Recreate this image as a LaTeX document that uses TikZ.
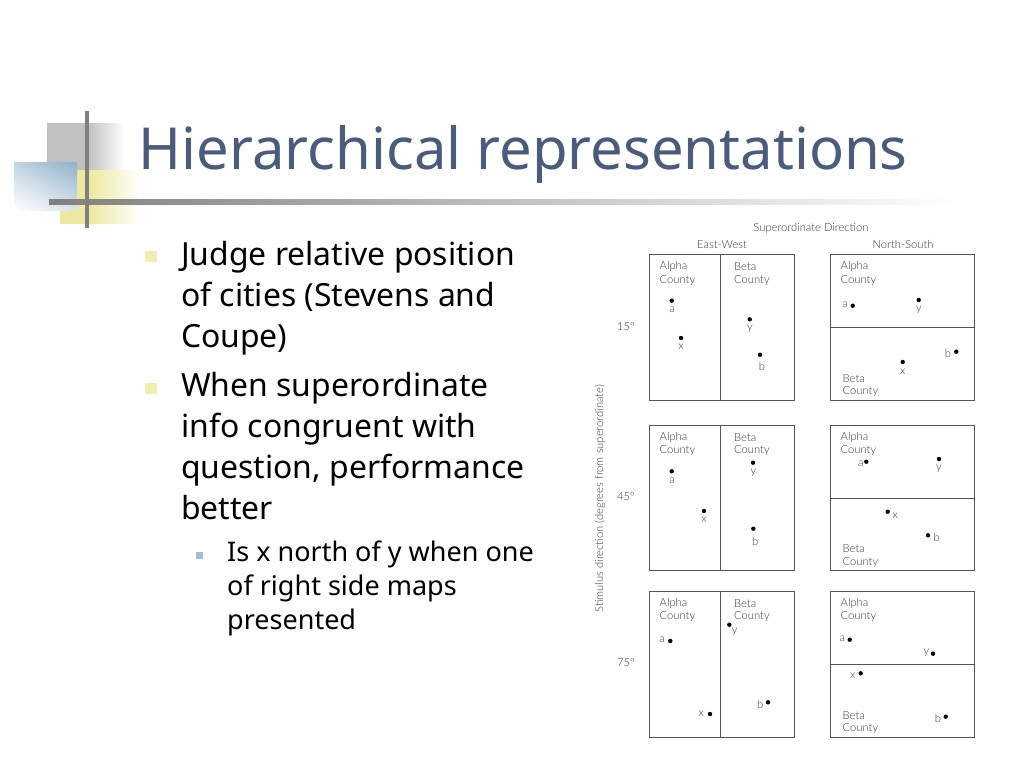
\documentclass[tikz,border=0pt]{standalone}
\usepackage{fontspec}
\usetikzlibrary{shadings}
\setmainfont{Noto Sans}
\newfontfamily\figfont{Lato Light}
\definecolor{titleblue}{HTML}{4A5B7C}
\definecolor{figgrey}{HTML}{3A3A3A}
\definecolor{panelgrey}{HTML}{555555}
\definecolor{bargrey}{HTML}{808080}
\definecolor{logogrey}{HTML}{C0C0C0}
\definecolor{logoyellow}{HTML}{EEE9A0}
\definecolor{logoblue}{HTML}{8FB0C8}
\definecolor{bulletyellow}{HTML}{F1EEB4}
\definecolor{bulletblue}{HTML}{9FC0D0}
\newcounter{nn}
\tikzset{
  x=1pt,y=-1pt,
  titletext/.style={anchor=base west,inner sep=0,text=titleblue,font=\fontsize{58}{58}\selectfont},
  bodytext/.style={anchor=base west,inner sep=0,text=black,font=\fontsize{31.9}{31.9}\selectfont},
  subtext/.style={anchor=base west,inner sep=0,text=black,font=\fontsize{27}{27}\selectfont},
  figtext/.style={inner sep=0,yshift=-0.8pt,text=figgrey,font=\figfont\fontsize{11.2}{11.2}\selectfont},
  citydot/.style={circle,fill=black,draw=none,inner sep=0,minimum size=4.4pt},
  panel/.style={draw=panelgrey,line width=0.9pt},
}
\newcommand{\citypt}[5]{\stepcounter{nn}\node[citydot] (d\thenn) at (#1,#2) {};\node[figtext] (l\thenn) at (#3,#4) {#5};}
\newcommand{\county}[3]{\stepcounter{nn}\node[figtext,anchor=west] (c\thenn) at (#1,#2) {#3};}
\begin{document}
\begin{tikzpicture}
\useasboundingbox (0,0) rectangle (1024,768);
\fill[white] (0,0) rectangle (1024,768);
% logo
\fill[logogrey] (47,123) rectangle (88,170);
\shade[left color=logogrey,right color=white] (88,123) rectangle (124,170);
\fill[logoyellow] (60,170) rectangle (90,223.5);
\shade[left color=logoyellow,right color=white] (90,170) rectangle (140,223.5);
\shade[lower left=white,upper right=logoblue,upper left=logoblue!55!white,lower right=logoblue!35!white] (14,162) rectangle (77,210);
\shade[left color=bargrey,right color=white] (49,199) rectangle (960,204);
\fill[bargrey] (85,111) rectangle (89,228);
% title
\node[titletext] (title) at (138.5,169.5) {Hierarchical representations};
% bullets
\fill[bulletyellow] (145,251) rectangle (157,262);
\fill[bulletyellow] (145,383) rectangle (157,394);
\fill[bulletblue] (196,552) rectangle (203,559);
\node[bodytext] (b1) at (181,265) {Judge relative position};
\node[bodytext] (b2) at (181,306) {of cities (Stevens and};
\node[bodytext] (b3) at (181,347) {Coupe)};
\node[bodytext] (b4) at (181,396) {When superordinate};
\node[bodytext] (b5) at (181,437) {info congruent with};
\node[bodytext] (b6) at (181,478) {question, performance};
\node[bodytext] (b7) at (181,519) {better};
\node[subtext] (s1) at (227,561) {Is x north of y when one};
\node[subtext] (s2) at (227,595) {of right side maps};
\node[subtext] (s3) at (227,629) {presented};
% figure headers
\node[figtext] (h0) at (811,227.5) {Superordinate Direction};
\node[figtext] (h1) at (722,244) {East-West};
\node[figtext] (h2) at (903,244) {North-South};
\node[figtext] (a1) at (626,326) {15°};
\node[figtext] (a2) at (626,496) {45°};
\node[figtext] (a3) at (626,662) {75°};
\node[figtext,rotate=90] (ax) at (600,498) {Stimulus direction (degrees from superordinate)};
% panels
\draw[panel] (649.5,254.5) rectangle (794,400.5) (720.5,254.5) -- (720.5,400.5);
\draw[panel] (830.5,254.5) rectangle (974.5,400.5) (830.5,327.5) -- (974.5,327.5);
\draw[panel] (649.5,425.5) rectangle (794,570.5) (720.5,425.5) -- (720.5,570.5);
\draw[panel] (830.5,425.5) rectangle (974.5,570.5) (830.5,498.5) -- (974.5,498.5);
\draw[panel] (649.5,591.5) rectangle (794,737.5) (720.5,591.5) -- (720.5,737.5);
\draw[panel] (830.5,591.5) rectangle (974.5,737.5) (830.5,664.5) -- (974.5,664.5);
% county labels
\county{659.5}{266}{Alpha}\county{659.5}{280}{County}
\county{734}{266}{Beta}\county{734}{280}{County}
\county{840.5}{266}{Alpha}\county{840.5}{280}{County}
\county{842.5}{377.5}{Beta}\county{842.5}{391}{County}
\county{659.5}{437}{Alpha}\county{659.5}{450}{County}
\county{734}{437}{Beta}\county{734}{450}{County}
\county{840.5}{437}{Alpha}\county{840.5}{450}{County}
\county{842.5}{548}{Beta}\county{842.5}{562}{County}
\county{659.5}{603}{Alpha}\county{659.5}{616}{County}
\county{734}{603}{Beta}\county{734}{616}{County}
\county{840.5}{603}{Alpha}\county{840.5}{616}{County}
\county{842.5}{714.5}{Beta}\county{842.5}{728}{County}
% points row 1
\citypt{671.7}{300.7}{672}{309}{a}
\citypt{681}{338}{681}{346}{x}
\citypt{749.7}{319.3}{750}{328}{y}
\citypt{760}{354.7}{762}{366}{b}
\citypt{852.7}{305.7}{845}{304}{a}
\citypt{918.7}{300}{919}{309}{y}
\citypt{956.3}{351.7}{948}{352.7}{b}
\citypt{902.7}{362}{902.7}{370.7}{x}
% points row 2
\citypt{671.7}{471.3}{672}{479.7}{a}
\citypt{704}{511}{704}{519}{x}
\citypt{753}{462.7}{753.3}{471.7}{y}
\citypt{753.3}{528.7}{755.3}{540.3}{b}
\citypt{866.3}{461.7}{860.7}{463}{a}
\citypt{939}{459}{939}{467.7}{y}
\citypt{887.7}{511.7}{895.3}{515.3}{x}
\citypt{928}{535.3}{936.7}{537}{b}
% points row 3
\citypt{670.3}{641}{662}{639.3}{a}
\citypt{710}{714}{701.3}{713}{x}
\citypt{729.3}{624.7}{734.7}{630.7}{y}
\citypt{768}{702.3}{760.3}{703.7}{b}
\citypt{849.7}{639.7}{842.3}{638.3}{a}
\citypt{933}{653.7}{926.3}{652}{y}
\citypt{860.7}{673.3}{852.7}{675}{x}
\citypt{945.7}{716.7}{938}{717.3}{b}
\end{tikzpicture}
\end{document}
